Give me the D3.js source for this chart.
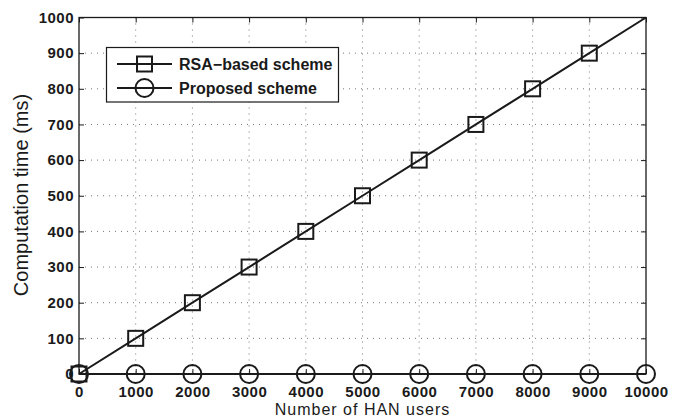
<!DOCTYPE html>
<html>
<head>
<meta charset="utf-8">
<script src="https://cdn.jsdelivr.net/npm/d3@7"></script>
<style>
  html, body { margin: 0; padding: 0; background: #fff; }
  svg { display: block; }
</style>
</head>
<body>
<svg id="chart" width="681" height="419"></svg>
<script>
// Number of HAN users on the x axis
const users = [0, 1000, 2000, 3000, 4000, 5000, 6000, 7000, 8000, 9000, 10000];
// Computation time (ms) for each scheme
const rsaTime = [0, 100, 200, 300, 400, 500, 600, 700, 800, 900, 1000];
const proposedTime = [0, 0, 0, 0, 0, 0, 0, 0, 0, 0, 0];
// RSA markers are drawn on every point except the last
const rsaMarkerCount = 10;
const xTicks = [0, 1000, 2000, 3000, 4000, 5000, 6000, 7000, 8000, 9000, 10000];
const yTicks = [0, 100, 200, 300, 400, 500, 600, 700, 800, 900, 1000];
const legendLabels = ["RSA\u2212based scheme", "Proposed scheme"];

const svg = d3.select("#chart");
const plotL = 79, plotR = 646, plotT = 17.5, plotB = 374;
const ink = "#1a1a1a";

const x = d3.scaleLinear().domain([0, 10000]).range([plotL, plotR]);
const y = d3.scaleLinear().domain([0, 1000]).range([plotB, plotT]);

// dotted grid
const grid = svg.append("g").attr("stroke", "#777").attr("stroke-width", 1)
  .attr("stroke-dasharray", "1,5");
grid.selectAll("line.v").data(xTicks.slice(1, -1)).join("line").attr("class", "v")
  .attr("x1", d => x(d)).attr("x2", d => x(d)).attr("y1", plotT).attr("y2", plotB);
grid.selectAll("line.h").data(yTicks.slice(1, -1)).join("line").attr("class", "h")
  .attr("y1", d => y(d)).attr("y2", d => y(d)).attr("x1", plotL).attr("x2", plotR);

// axes with inward ticks, mirrored on top and right
const font = "Liberation Sans, Arial, Helvetica, sans-serif";
const xAxis = d3.axisBottom(x).tickValues(xTicks).tickSize(-5).tickPadding(12).tickFormat(d3.format("d"));
const yAxis = d3.axisLeft(y).tickValues(yTicks).tickSize(-5).tickPadding(5).tickFormat(d3.format("d"));

function styleAxis(g, showText) {
  g.select(".domain").remove();
  g.selectAll("line").attr("stroke", ink).attr("stroke-width", 1);
  g.selectAll("text").attr("fill", ink).style("font-family", font)
    .style("font-size", "15px").style("font-weight", "bold").style("letter-spacing", "0.5px")
    .style("display", showText ? null : "none");
}
svg.append("g").attr("transform", `translate(0,${plotB})`).call(xAxis).call(g => styleAxis(g, true));
svg.append("g").attr("transform", `translate(${plotL},0)`).call(yAxis).call(g => styleAxis(g, true));
svg.append("g").attr("transform", `translate(0,${plotT})`).call(d3.axisTop(x).tickValues(xTicks).tickSize(-5)).call(g => styleAxis(g, false));
svg.append("g").attr("transform", `translate(${plotR},0)`).call(d3.axisRight(y).tickValues(yTicks).tickSize(-5)).call(g => styleAxis(g, false));

// plot frame
svg.append("rect").attr("x", plotL).attr("y", plotT).attr("width", plotR - plotL).attr("height", plotB - plotT)
  .attr("fill", "none").attr("stroke", ink).attr("stroke-width", 1.3);

// series lines
const line = d3.line().x(d => x(d[0])).y(d => y(d[1]));
const rsaPts = users.map((u, i) => [u, rsaTime[i]]);
const propPts = users.map((u, i) => [u, proposedTime[i]]);
svg.append("path").datum(rsaPts).attr("d", line).attr("fill", "none").attr("stroke", ink).attr("stroke-width", 2);
svg.append("path").datum(propPts).attr("d", line).attr("fill", "none").attr("stroke", ink).attr("stroke-width", 2);

// markers
const sq = 15, cr = 9;
svg.append("g").selectAll("circle").data(propPts).join("circle")
  .attr("cx", d => x(d[0])).attr("cy", d => y(d[1])).attr("r", cr)
  .attr("fill", "none").attr("stroke", ink).attr("stroke-width", 2);
svg.append("g").selectAll("rect").data(rsaPts.slice(0, rsaMarkerCount)).join("rect")
  .attr("x", d => x(d[0]) - sq / 2).attr("y", d => y(d[1]) - sq / 2)
  .attr("width", sq).attr("height", sq)
  .attr("fill", "none").attr("stroke", ink).attr("stroke-width", 2);

// legend
const lg = svg.append("g");
lg.append("rect").attr("x", 106.5).attr("y", 47.5).attr("width", 232).attr("height", 54.5)
  .attr("fill", "#fff").attr("stroke", ink).attr("stroke-width", 1.2);
legendLabels.forEach((label, i) => {
  const cy = 64 + i * 24;
  lg.append("line").attr("x1", 117).attr("x2", 172).attr("y1", cy).attr("y2", cy)
    .attr("stroke", ink).attr("stroke-width", 2);
  if (i === 0) {
    lg.append("rect").attr("x", 144.5 - sq / 2).attr("y", cy - sq / 2).attr("width", sq).attr("height", sq)
      .attr("fill", "none").attr("stroke", ink).attr("stroke-width", 2);
  } else {
    lg.append("circle").attr("cx", 144.5).attr("cy", cy).attr("r", cr)
      .attr("fill", "none").attr("stroke", ink).attr("stroke-width", 2);
  }
  lg.append("text").attr("x", 179).attr("y", cy).attr("dy", "0.35em")
    .attr("fill", ink).style("font-family", font).style("font-size", "16px").style("font-weight", "bold")
    .text(label);
});

// axis titles
svg.append("text").attr("x", (plotL + plotR) / 2).attr("y", 415).attr("text-anchor", "middle")
  .attr("fill", ink).style("font-family", font).style("font-size", "16px").style("letter-spacing", "1px")
  .text("Number of HAN users");
svg.append("text").attr("transform", `translate(28,195) rotate(-90)`)
  .attr("text-anchor", "middle").attr("fill", ink)
  .style("font-family", font).style("font-size", "20px")
  .text("Computation time (ms)");
</script>
</body>
</html>
